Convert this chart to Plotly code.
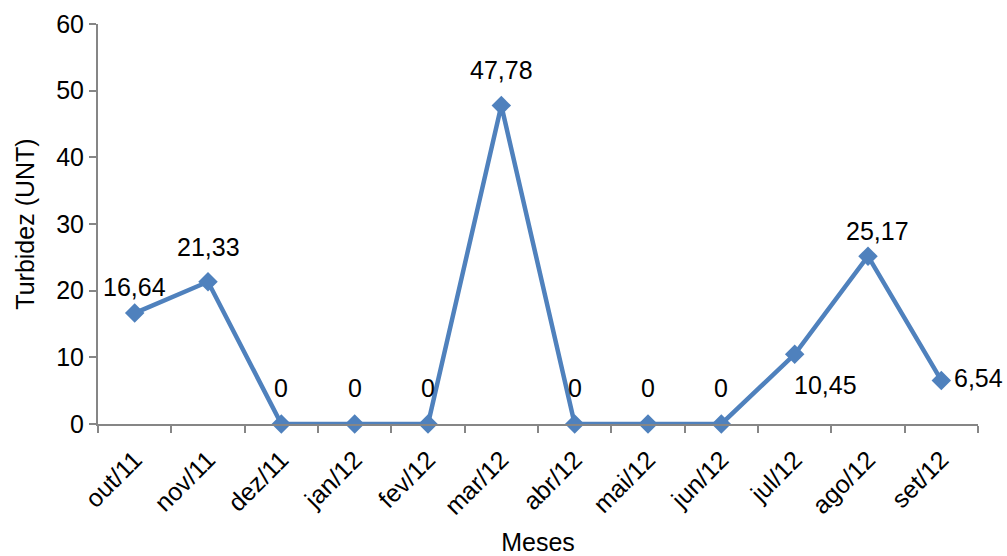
import plotly.graph_objects as go

meses = ["out/11", "nov/11", "dez/11", "jan/12", "fev/12", "mar/12",
         "abr/12", "mai/12", "jun/12", "jul/12", "ago/12", "set/12"]
turbidez = [16.64, 21.33, 0, 0, 0, 47.78, 0, 0, 0, 10.45, 25.17, 6.54]
rotulos = ["16,64", "21,33", "0", "0", "0", "47,78", "0", "0", "0", "10,45", "25,17", "6,54"]

# label placement relative to each marker: (x shift px, y shift px, anchor)
deslocamentos = {
    "out/11": (0, 26, "center"),
    "nov/11": (0, 35, "center"),
    "mar/12": (0, 35, "center"),
    "jul/12": (31, -31, "center"),
    "ago/12": (9, 25, "center"),
    "set/12": (11, 2, "left"),
}
padrao = (0, 36, "center")

azul = "#4F81BD"
cinza = "#868686"
fonte = "Liberation Sans, Arial, sans-serif"
tam = 25

fig = go.Figure()
fig.add_trace(go.Scatter(
    x=meses, y=turbidez,
    mode="lines+markers",
    line=dict(color=azul, width=4.5),
    marker=dict(symbol="diamond", size=15, color=azul),
    cliponaxis=False,
    showlegend=False,
))

for mes, valor, rotulo in zip(meses, turbidez, rotulos):
    dx, dy, anc = deslocamentos.get(mes, padrao)
    fig.add_annotation(
        x=mes, y=valor, text=rotulo, showarrow=False,
        xanchor=anc, yanchor="middle", xshift=dx, yshift=dy,
        font=dict(family=fonte, size=tam, color="black"),
    )

fig.update_layout(
    width=1007, height=556,
    margin=dict(l=98, r=29, t=24, b=132, autoexpand=False),
    paper_bgcolor="white", plot_bgcolor="white",
    font=dict(family=fonte, color="black"),
)
fig.update_xaxes(
    type="category", range=[-0.5, 11.5], automargin=False,
    showline=True, linecolor=cinza, linewidth=2,
    ticks="outside", tickson="boundaries", ticklen=7, tickcolor=cinza, tickwidth=2,
    tickangle=-45, tickfont=dict(family=fonte, size=tam), ticklabelstandoff=9,
    title=dict(text="Meses", font=dict(family=fonte, size=tam), standoff=16),
    showgrid=False, zeroline=False,
)
fig.update_yaxes(
    range=[0, 60], dtick=10, automargin=False,
    showline=True, linecolor=cinza, linewidth=2,
    ticks="outside", ticklen=7, tickcolor=cinza, tickwidth=2,
    tickfont=dict(family=fonte, size=tam),
    title=dict(text="Turbidez (UNT)", font=dict(family=fonte, size=tam), standoff=14),
    showgrid=False, zeroline=False,
)

fig.write_html("out.html")
